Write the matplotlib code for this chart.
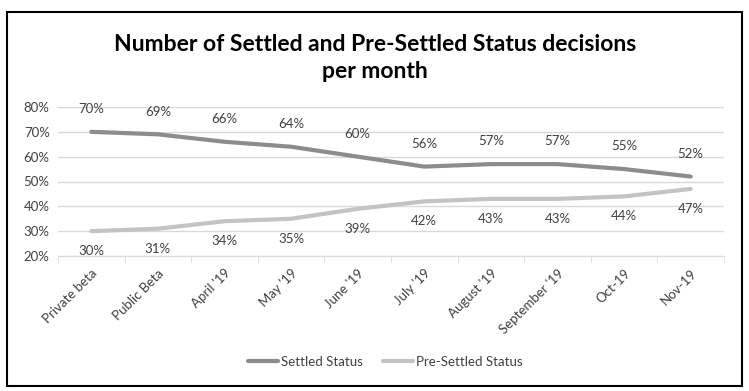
import matplotlib.pyplot as plt
from matplotlib.patches import Rectangle

months = ["Private beta", "Public Beta", "April '19", "May '19", "June '19",
          "July '19", "August '19", "September '19", "Oct-19", "Nov-19"]
settled = [70, 69, 66, 64, 60, 56, 57, 57, 55, 52]
pre_settled = [30, 31, 34, 35, 39, 42, 43, 43, 44, 47]

plt.rcParams["font.family"] = ["Lato", "DejaVu Sans"]

fig = plt.figure(figsize=(7.49, 3.91), dpi=100)
W, H = 749, 391
ax = fig.add_axes([58 / W, 1 - 256 / H, 666 / W, 149 / H])

x = list(range(len(months)))
ax.plot(x, settled, color="#8c8c8c", lw=3, solid_capstyle="round", label="Settled Status")
ax.plot(x, pre_settled, color="#c3c3c3", lw=3, solid_capstyle="round", label="Pre-Settled Status")

for i in x:
    ax.annotate(f"{settled[i]}%", (i, settled[i]), xytext=(0, 12), textcoords="offset points",
                ha="center", va="bottom", fontsize=9.5, color="#404040")
    ax.annotate(f"{pre_settled[i]}%", (i, pre_settled[i]), xytext=(0, -10), textcoords="offset points",
                ha="center", va="top", fontsize=9.5, color="#404040")

ax.set_xlim(-0.5, len(months) - 0.5)
ax.set_ylim(20, 80)
ax.set_yticks(range(20, 81, 10))
ax.set_yticklabels([f"{v}%" for v in range(20, 81, 10)], fontsize=9.5, color="#404040")
ax.set_xticks(x)
ax.set_xticklabels(months, rotation=45, ha="right", rotation_mode="anchor", fontsize=9.5, color="#404040")
ax.set_xticks([i - 0.5 for i in range(len(months) + 1)], minor=True)
ax.tick_params(axis="x", which="major", length=0, pad=8)
ax.tick_params(axis="x", which="minor", length=4, color="#d9d9d9")
ax.tick_params(axis="y", length=0, pad=6)
ax.grid(axis="y", color="#d9d9d9", lw=1)
ax.set_axisbelow(True)
for s in ["top", "right", "left"]:
    ax.spines[s].set_visible(False)
ax.spines["bottom"].set_color("#d9d9d9")

fig.text(0.501, 1 - 58 / H, "Number of Settled and Pre-Settled Status decisions\nper month",
         ha="center", va="center", fontsize=16.5, fontweight="bold", linespacing=1.3)

fig.legend(loc="center", bbox_to_anchor=(385 / W, 1 - 362 / H), ncol=2, frameon=False,
           fontsize=9.5, handlelength=2.3, handletextpad=0.2, columnspacing=1.5,
           labelcolor="#404040")

fig.patches.append(Rectangle((7 / W, 1 - 386 / H), 735 / W, 374 / H, transform=fig.transFigure,
                             fill=False, edgecolor="black", lw=1.5))

fig.savefig("out.png", dpi=100)
